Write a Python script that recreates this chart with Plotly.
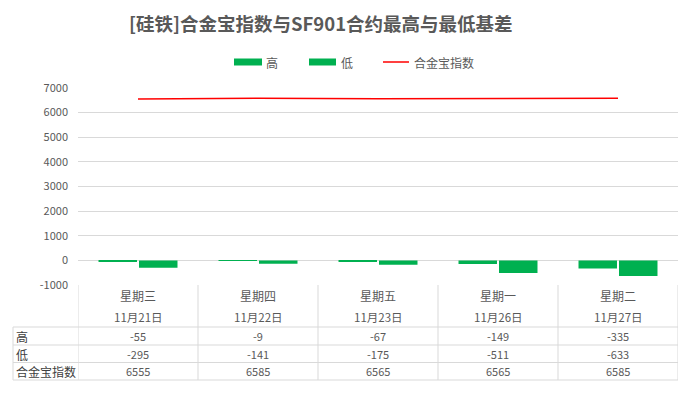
import plotly.graph_objects as go

days = ["星期三", "星期四", "星期五", "星期一", "星期二"]
dates = ["11月21日", "11月22日", "11月23日", "11月26日", "11月27日"]
high = [-55, -9, -67, -149, -335]
low = [-295, -141, -175, -511, -633]
index_vals = [6555, 6585, 6565, 6565, 6585]
series_names = ["高", "低", "合金宝指数"]
y_ticks = [-1000, 0, 1000, 2000, 3000, 4000, 5000, 6000, 7000]
title_text = "[硅铁]合金宝指数与SF901合约最高与最低基差"

W, H = 691, 394
L, R, T, B = 78, 678, 88, 285
FONT = "Noto Sans CJK SC, Microsoft YaHei, sans-serif"
GREEN = "#00B050"
RED = "#FF0000"
GRID = "#D9D9D9"
TXT = "#595959"


def px(x):
    return (x - L) / (R - L)


def py(y):
    return (B - y) / (B - T)


cats = list(range(len(days)))

fig = go.Figure()
fig.add_trace(go.Bar(x=cats, y=high, name=series_names[0], marker=dict(color=GREEN, line=dict(width=0))))
fig.add_trace(go.Bar(x=cats, y=low, name=series_names[1], marker=dict(color=GREEN, line=dict(width=0))))
fig.add_trace(go.Scatter(x=cats, y=index_vals, name=series_names[2], mode="lines",
                         line=dict(color=RED, width=1.5)))

shapes = []
annotations = []

# table grid
row_lines = [327, 345, 362.5, 380]
for yl in row_lines:
    shapes.append(dict(type="line", xref="paper", yref="paper", x0=px(13), x1=px(R),
                       y0=py(yl), y1=py(yl), line=dict(color=GRID, width=1)))
shapes.append(dict(type="line", xref="paper", yref="paper", x0=px(13), x1=px(13),
                   y0=py(327), y1=py(380), line=dict(color=GRID, width=1)))
for k in range(len(days) + 1):
    shapes.append(dict(type="line", xref="x", yref="paper", x0=k - 0.5, x1=k - 0.5,
                       y0=py(B), y1=py(380), line=dict(color=GRID, width=1)))

# header texts
for i in cats:
    annotations.append(dict(x=i, y=py(295), xref="x", yref="paper", text=days[i], showarrow=False,
                            font=dict(size=12, color=TXT, family=FONT), xanchor="center", yanchor="middle"))
    annotations.append(dict(x=i, y=py(317), xref="x", yref="paper", text=dates[i], showarrow=False,
                            font=dict(size=11.5, color=TXT, family=FONT), xanchor="center", yanchor="middle"))
    for vals, yy in zip([high, low, index_vals], [336, 354, 371]):
        annotations.append(dict(x=i, y=py(yy), xref="x", yref="paper", text=str(vals[i]), showarrow=False,
                                font=dict(size=11, color=TXT, family=FONT), xanchor="center", yanchor="middle"))

for name, yy in zip(series_names, [336, 354, 371]):
    annotations.append(dict(x=px(14), y=py(yy), xref="paper", yref="paper", text=name, showarrow=False,
                            font=dict(size=12, color="#404040", family=FONT), xanchor="left", yanchor="middle"))

# legend (manual)
ly = 62
shapes.append(dict(type="rect", xref="paper", yref="paper", x0=px(234), x1=px(262), y0=py(ly - 3.5), y1=py(ly + 3.5),
                   fillcolor=GREEN, line=dict(width=0)))
shapes.append(dict(type="rect", xref="paper", yref="paper", x0=px(309), x1=px(336), y0=py(ly - 3.5), y1=py(ly + 3.5),
                   fillcolor=GREEN, line=dict(width=0)))
shapes.append(dict(type="line", xref="paper", yref="paper", x0=px(383), x1=px(409), y0=py(ly), y1=py(ly),
                   line=dict(color=RED, width=1.5)))
for name, xx in zip(series_names, [264, 339, 412]):
    annotations.append(dict(x=px(xx), y=py(ly), xref="paper", yref="paper", text=name, showarrow=False,
                            font=dict(size=12, color=TXT, family=FONT), xanchor="left", yanchor="middle"))

# title
annotations.append(dict(x=px(321), y=py(23), xref="paper", yref="paper", text="<b>" + title_text + "</b>",
                        showarrow=False, font=dict(size=18.5, color=TXT, family=FONT),
                        xanchor="center", yanchor="middle"))

fig.update_layout(
    width=W, height=H,
    margin=dict(l=L, r=W - R, t=T, b=H - B, pad=0),
    paper_bgcolor="white", plot_bgcolor="white",
    showlegend=False,
    barmode="group", bargap=0.325, bargroupgap=0.05,
    font=dict(family=FONT, color=TXT),
    shapes=shapes, annotations=annotations,
    xaxis=dict(range=[-0.5, len(days) - 0.5], showticklabels=False, showgrid=False,
               zeroline=False, showline=False, ticks=""),
    yaxis=dict(range=[-1000, 7000], tickmode="array", tickvals=y_ticks,
               ticktext=[str(v) for v in y_ticks],
               showgrid=True, gridcolor=GRID, gridwidth=1,
               zeroline=False, showline=False, ticks="", ticklabelstandoff=9,
               tickfont=dict(size=11, color=TXT, family=FONT)),
)

fig.write_html("out.html")
